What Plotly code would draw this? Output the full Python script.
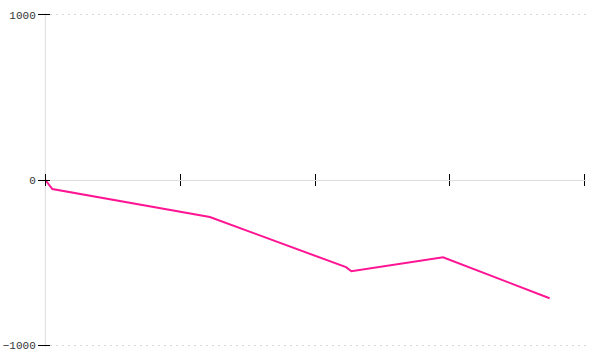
import plotly.graph_objects as go

x_vals = [0, 0.052, 1.22, 2.23, 2.27, 2.95, 3.74]
y_vals = [0, -55, -224, -527, -552, -467, -715]
x_ticks = [0, 1, 2, 3, 4]
y_ticks = [-1000, 0, 1000]
y_tick_labels = ["\u22121000", "0", "1000"]

font = dict(family="Liberation Mono", size=11, color="#333")

fig = go.Figure()
fig.add_trace(go.Scatter(x=x_vals, y=y_vals, mode="lines",
                         line=dict(color="#ff1493", width=2), showlegend=False,
                         hoverinfo="skip"))
fig.add_trace(go.Scatter(x=[], y=[], xaxis="x2", yaxis="y", showlegend=False))

xr = [-0.01, 4.01]
yr = [-1010, 1010]

fig.update_layout(
    width=600, height=360,
    margin=dict(l=44, r=14, t=13, b=13),
    paper_bgcolor="white", plot_bgcolor="white",
    font=font,
    xaxis=dict(range=xr, tickvals=x_ticks, ticktext=[""] * 5, automargin=False,
               showgrid=False, zeroline=False, showline=True, linecolor="#dddddd",
               linewidth=1, ticks="outside", ticklen=5, tickcolor="#000", tickwidth=1,
               anchor="free", position=0.5),
    xaxis2=dict(range=xr, tickvals=x_ticks, ticktext=[""] * 5, overlaying="x",
                showgrid=False, zeroline=False, showline=False, automargin=False,
                ticks="inside", ticklen=6, tickcolor="#000", tickwidth=1,
                anchor="free", position=0.5),
    yaxis=dict(range=yr, tickvals=y_ticks, ticktext=y_tick_labels,
               automargin=False, anchor="free", position=0.011,
               showgrid=True, gridcolor="#d8d8d8", griddash="2px,4px", gridwidth=1,
               zeroline=False, showline=False,
               ticks="outside", ticklen=12, tickcolor="#000", tickwidth=1),
    shapes=[dict(type="line", xref="x", yref="paper", x0=0, x1=0, y0=0, y1=1,
                 line=dict(color="#dddddd", width=1), layer="below")],
)

fig.write_html("out.html")
